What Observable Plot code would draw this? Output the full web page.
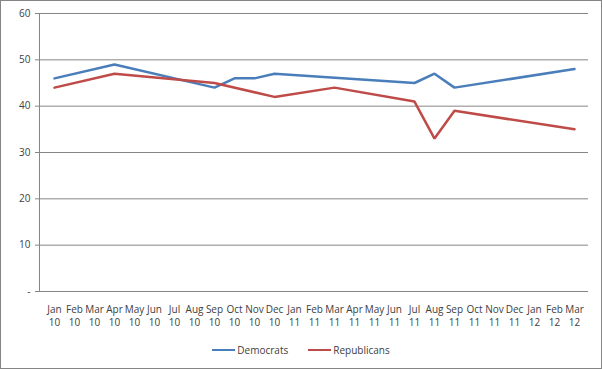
<!DOCTYPE html>
<html>
<head>
<meta charset="utf-8">
<script src="https://cdn.jsdelivr.net/npm/d3@7"></script>
<script src="https://cdn.jsdelivr.net/npm/@observablehq/plot@0.6"></script>
<style>
  html, body { margin: 0; padding: 0; background: #fff; }
  #wrap { position: relative; width: 602px; height: 369px; overflow: hidden; font-family: "Open Sans", "Liberation Sans", sans-serif; }
  #border { position: absolute; left: 0; top: 0; width: 602px; height: 369px; box-sizing: border-box; border: 1px solid #858585; pointer-events: none; }
  #legend { position: absolute; left: 0; top: 343px; width: 602px; display: flex; justify-content: center; gap: 20px; font-size: 10px; color: #404040; }
  .item { display: flex; align-items: center; }
  .sw { width: 23px; height: 0; border-top: 2.5px solid; margin-right: 2px; }
</style>
</head>
<body>
<div id="wrap"><div id="chart"></div><div id="legend"></div><div id="border"></div></div>
<script>
const categories = ["Jan 10","Feb 10","Mar 10","Apr 10","May 10","Jun 10","Jul 10","Aug 10","Sep 10","Oct 10","Nov 10","Dec 10",
  "Jan 11","Feb 11","Mar 11","Apr 11","May 11","Jun 11","Jul 11","Aug 11","Sep 11","Oct 11","Nov 11","Dec 11",
  "Jan 12","Feb 12","Mar 12"];
const democrats   = [46,null,null,49,null,null,null,null,44,46,46,47,null,null,null,null,null,null,45,47,44,null,null,null,null,null,48];
const republicans = [44,null,null,47,null,null,null,null,45,null,null,42,null,null,44,null,null,null,41,33,39,null,null,null,null,null,35];
const yTicks = [0,10,20,30,40,50,60];
const seriesNames = ["Democrats","Republicans"];
const colors = ["#4A7EBB","#BE4B48"];

const rows = [];
[democrats, republicans].forEach((vals, s) => {
  vals.forEach((v, i) => { if (v != null) rows.push({month: categories[i], value: v, series: seriesNames[s]}); });
});

const chart = Plot.plot({
  width: 602,
  height: 335,
  marginLeft: 39,
  marginRight: 14,
  marginTop: 13,
  marginBottom: 44,
  style: {fontFamily: '"Open Sans", "Liberation Sans", sans-serif', fontSize: "10px", color: "#404040", background: "#fff"},
  x: {type: "band", domain: categories, padding: 0},
  y: {domain: [0, 60]},
  color: {domain: seriesNames, range: colors},
  marks: [
    Plot.ruleY(yTicks, {stroke: "#868686", strokeWidth: 1, strokeOpacity: 1}),
    Plot.frame({anchor: "left", stroke: "#868686", strokeOpacity: 1}),
    Plot.axisY({ticks: yTicks, tickSize: 4, tickPadding: 5, tickFormat: d => d === 0 ? "-" : d, label: null, stroke: "#868686", strokeOpacity: 1, fill: "#404040", fontSize: 10}),
    Plot.axisX({tickSize: 0, tickPadding: 12, tickFormat: d => d.replace(" ", "\n"), label: null, lineHeight: 1.3, fill: "#404040", fontSize: 10}),
    Plot.line(rows, {x: "month", y: "value", z: "series", stroke: "series", strokeWidth: 2.5, strokeLinejoin: "miter", curve: "linear"})
  ]
});
document.getElementById("chart").appendChild(chart);

const legend = document.getElementById("legend");
seriesNames.forEach((n, i) => {
  const it = document.createElement("div");
  it.className = "item";
  it.innerHTML = `<span class="sw" style="border-color:${colors[i]}"></span><span>${n}</span>`;
  legend.appendChild(it);
});
</script>
</body>
</html>
